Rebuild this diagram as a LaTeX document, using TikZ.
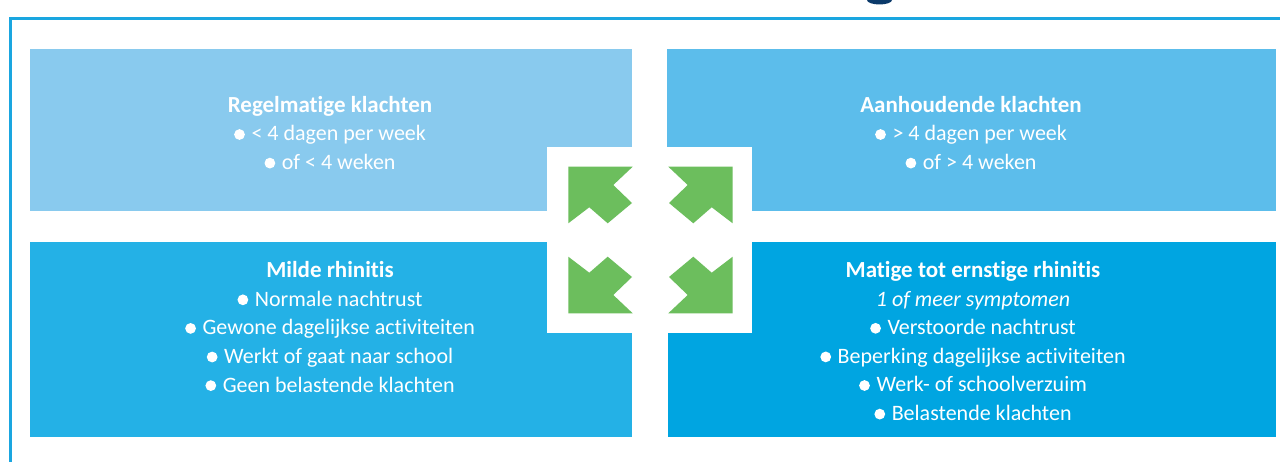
\documentclass[tikz,border=0pt]{standalone}
\usepackage{fontspec}
\setmainfont[Ligatures=NoCommon]{Carlito}
\definecolor{cTL}{HTML}{89CAEE}
\definecolor{cTR}{HTML}{5CBDEB}
\definecolor{cBL}{HTML}{24B1E6}
\definecolor{cBR}{HTML}{00A5E1}
\definecolor{cGreen}{HTML}{6CBE5D}
\definecolor{cFrame}{HTML}{1AA6E0}
\definecolor{cNavy}{HTML}{0B3A6A}
\newcommand\bul{\tikz[x=1em,y=1em,baseline=0pt]\fill[white] (0.245,0.29) circle[radius=0.245];\hspace{0.3em}}
\newcommand\ttl[1]{{\fontsize{23}{28.6}\selectfont\bfseries #1}}
\tikzset{
  boxtext/.style={text=white, align=center, anchor=base, inner sep=0pt,
    font=\fontsize{22}{28.6}\selectfont},
  greenarrow/.style={fill=cGreen}
}
\newcommand\arrowshape{\fill[greenarrow] (-82.2,-73.3) -- (-17.8,-73.3) -- (-37.2,-55) -- (-18.5,-37) -- (-42.8,-16.7) -- (-61.2,-32.7) -- (-82.2,-16.7) -- cycle;}
\begin{document}
\begin{tikzpicture}[x=1pt,y=-1pt]
\useasboundingbox (0,0) rectangle (1280,462);
\fill[white] (0,0) rectangle (1280,462);
% title fragment
\fill[cNavy] (879.5,0) ellipse[x radius=12.5, y radius=4.5];
% frame
\draw[cFrame, line width=2.5] (10.3,462) -- (10.3,18.7) -- (1280,18.7);
% boxes
\fill[cTL] (30,49) rectangle (632,211);
\fill[cTR] (667,49) rectangle (1276,211);
\fill[cBL] (30,242) rectangle (632,437);
\fill[cBR] (668,242) rectangle (1276,437);
% centre white square
\fill[white] (547,147) rectangle (752,333);
% arrows
\begin{scope}[shift={(650.5,240)}]
  \arrowshape
  \begin{scope}[xscale=-1]\arrowshape\end{scope}
  \begin{scope}[yscale=-1]\arrowshape\end{scope}
  \begin{scope}[xscale=-1,yscale=-1]\arrowshape\end{scope}
\end{scope}
% texts (anchor = baseline of the last line)
\node[boxtext] (tl) at (330,169.5) {\ttl{Regelmatige klachten}\\ \bul < 4 dagen per week\\ \bul of < 4 weken};
\node[boxtext] (tr) at (971,169.5) {\ttl{Aanhoudende klachten}\\ \bul > 4 dagen per week\\ \bul of > 4 weken};
\node[boxtext] (bl) at (330,392) {\ttl{Milde rhinitis}\\ \bul Normale nachtrust\\ \bul Gewone dagelijkse activiteiten\\ \bul Werkt of gaat naar school\\ \bul Geen belastende klachten};
\node[boxtext] (br) at (973,420.5) {\ttl{Matige tot ernstige rhinitis}\\ \textit{1 of meer symptomen}\\ \bul Verstoorde nachtrust\\ \bul Beperking dagelijkse activiteiten\\ \bul Werk- of schoolverzuim\\ \bul Belastende klachten};
\end{tikzpicture}
\end{document}
